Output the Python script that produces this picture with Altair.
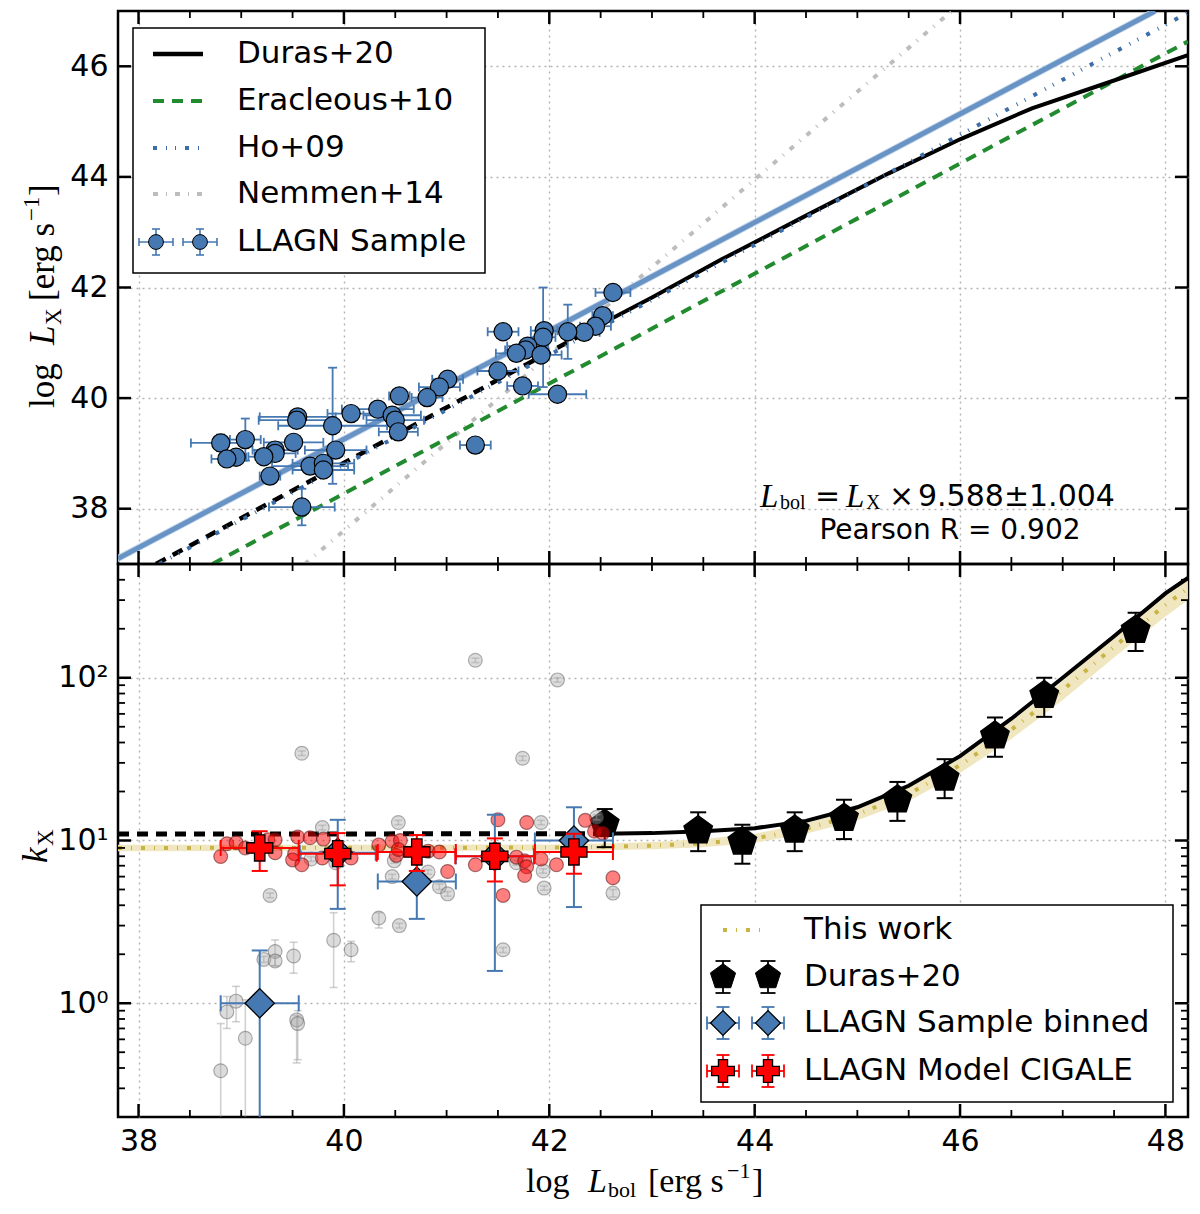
import altair as alt
import pandas as pd

# ---------------------------------------------------------------- top panel data
SAMPLE_LBOL = [42.62, 42.52, 42.45, 42.34, 42.18, 41.95, 41.94, 41.55, 41.79, 41.77,
               41.68, 41.92, 41.50, 41.74, 42.08, 41.28, 41.01, 40.93, 40.81, 40.54,
               40.33, 40.47, 40.50, 40.53, 40.07, 39.89, 39.92, 39.55, 39.54, 39.51,
               39.33, 39.33, 39.22, 39.04, 38.80, 38.95, 38.86, 39.28, 39.67, 39.80,
               39.80, 39.59]
SAMPLE_LX = [41.91, 41.49, 41.30, 41.19, 41.20, 41.22, 41.10, 41.20, 40.94, 40.87,
             40.81, 40.78, 40.49, 40.22, 40.07, 39.15, 40.34, 40.20, 40.01, 40.04,
             39.80, 39.69, 39.60, 39.39, 39.72, 39.50, 39.06, 39.66, 39.60, 39.20,
             39.06, 39.00, 38.94, 39.25, 39.19, 38.93, 38.90, 38.59, 38.77, 38.82,
             38.70, 38.03]
SAMPLE_LBOL_ERR = [0.17, 0.10, 0.15, 0.15, 0.15, 0.13, 0.12, 0.15, 0.20, 0.20,
                   0.20, 0.20, 0.20, 0.15, 0.28, 0.15, 0.15, 0.20, 0.15, 0.10,
                   0.35, 0.28, 0.28, 0.19, 0.23, 0.53, 0.30, 0.37, 0.37, 0.29,
                   0.22, 0.20, 0.15, 0.15, 0.29, 0.10, 0.15, 0.10, 0.37, 0.30,
                   0.30, 0.32]
SAMPLE_LX_ERR = [0.05, 0.05, 0.05, 0.05, 0.49, 0.05, 0.90, 0.05, 0.05, 0.05,
                 0.05, 0.05, 0.05, 0.05, 0.05, 0.05, 0.05, 0.05, 0.05, 0.05,
                 0.05, 0.05, 0.05, 0.05, 0.05, 1.05, 0.05, 0.05, 0.05, 0.05,
                 0.05, 0.05, 0.05, 0.38, 0.15, 0.05, 0.05, 0.05, 0.05, 0.05,
                 0.05, 0.33]

NEMMEN_LBOL, NEMMEN_LX = [39.62, 45.92], [37.0, 47.0]
HO_LBOL, HO_LX = [38.2, 48.22], [37.0, 46.97]
ERAC_LBOL, ERAC_LX = [38.72, 48.22], [37.0, 46.45]
DURAS_TOP_DASH_LBOL, DURAS_TOP_DASH_LX = [38.17, 42.6], [37.0, 41.43]
DURAS_TOP_LBOL = [42.6, 43.0, 43.67, 44.5, 45.3, 46.0, 46.7, 47.4, 48.22]
DURAS_TOP_LX = [41.43, 41.82, 42.5, 43.3, 44.06, 44.68, 45.24, 45.68, 46.2]
FIT_LBOL, FIT_LX = [37.8, 47.9], [37.1, 47.0]
FIT_LX_LO, FIT_LX_HI = [37.03, 46.93], [37.17, 47.07]

# ---------------------------------------------------------------- bottom panel data
GREY_LBOL = [41.28, 42.08, 39.59, 41.74, 39.79, 40.53, 41.92, 42.46, 39.68, 39.92,
             40.49, 40.82, 40.47, 40.93, 41.01, 41.68, 41.94, 41.95, 42.62, 39.28,
             41.55, 40.34, 40.54, 39.90, 40.07, 39.33, 39.22, 39.33, 39.51, 38.95,
             38.86, 39.54, 39.55, 39.04, 38.80]
GREY_K = [128, 97, 34.4, 32, 12.0, 12.9, 12.9, 13.9, 7.7, 7.3,
          7.5, 6.4, 6.0, 5.2, 4.7, 7.3, 6.5, 5.1, 4.75, 4.6,
          2.13, 3.34, 3.0, 2.44, 2.13, 2.08, 1.86, 1.82, 1.95, 1.03,
          0.885, 0.79, 0.75, 0.61, 0.385]
GREY_K_LO = [124, 94, 33.3, 31, 11.6, 12.5, 12.5, 13.4, 7.45, 7.05,
             7.25, 6.2, 5.8, 5.0, 4.55, 7.05, 6.3, 4.95, 4.5, 4.45,
             2.05, 2.9, 2.9, 1.25, 1.8, 1.7, 1.78, 1.7, 1.53, 0.77,
             0.7, 0.43, 0.45, 0.12, 0.1]
GREY_K_HI = [132, 100, 35.5, 33, 12.4, 13.3, 13.3, 14.4, 7.95, 7.55,
             7.75, 6.6, 6.2, 5.4, 4.85, 7.55, 6.7, 5.25, 5.0, 4.75,
             2.2, 3.6, 3.1, 3.6, 2.4, 2.45, 1.94, 1.94, 2.37, 1.27,
             1.1, 0.84, 0.9, 1.05, 0.75]

RED_LBOL = [38.80, 38.86, 38.95, 39.04, 39.26, 39.33, 39.33, 39.55, 39.67, 39.80,
            39.52, 39.50, 39.59, 39.79, 40.07, 40.34, 40.47, 40.55, 40.51, 40.53,
            40.82, 40.93, 41.01, 41.28, 41.50, 41.55, 41.78, 41.68, 41.76, 41.78,
            41.76, 41.92, 42.07, 42.35, 42.44, 42.52, 42.62]
RED_K = [7.97, 9.55, 9.7, 9.0, 10.1, 10.1, 8.4, 10.5, 10.4, 10.2,
         8.3, 7.6, 7.1, 7.8, 7.8, 9.4, 9.9, 10.0, 8.1, 8.8,
         8.6, 8.5, 6.45, 7.1, 13.4, 4.6, 12.9, 7.9, 7.5, 6.9,
         6.1, 7.7, 7.1, 13.3, 11.4, 11.1, 5.9]

BIN_LBOL = [39.18, 39.94, 40.71, 41.47, 42.24]
BIN_K = [1.0, 8.4, 5.6, 8.0, 10.0]
BIN_LBOL_ERR = [0.38, 0.37, 0.38, 0.38, 0.38]
BIN_K_LO = [0.1, 3.8, 3.3, 1.58, 3.9]
BIN_K_HI = [2.11, 13.4, 8.3, 14.4, 16.0]

CIG_LBOL = [39.18, 39.94, 40.71, 41.47, 42.24]
CIG_K = [9.0, 8.3, 8.5, 8.0, 8.5]
CIG_LBOL_ERR = [0.38, 0.38, 0.38, 0.385, 0.38]
CIG_K_LO = [6.5, 5.3, 6.5, 5.6, 6.25]
CIG_K_HI = [11.4, 11.1, 10.8, 10.3, 11.0]

DURAS_PTS_LBOL = [42.54, 43.45, 43.88, 44.39, 44.87, 45.39, 45.85, 46.34, 46.82, 47.71]
DURAS_PTS_K = [12.6, 11.5, 9.8, 11.6, 13.7, 17.8, 24.2, 44, 78, 196]
DURAS_PTS_K_LO = [9.1, 8.6, 7.2, 8.6, 10.2, 13.2, 18.2, 32.7, 57.5, 146]
DURAS_PTS_K_HI = [15.6, 14.9, 12.5, 14.9, 17.8, 22.9, 31.6, 57, 100, 251]

DURAS_DASH_LBOL, DURAS_DASH_K = [37.8, 42.5], [10.96, 11.0]
DURAS_LBOL = [42.5, 43.0, 43.5, 44.0, 44.5, 45.0, 45.5, 46.0, 46.5, 47.0, 47.5, 48.0, 48.22]
DURAS_K = [11.0, 11.1, 11.4, 11.9, 13.2, 16.0, 21.7, 33, 56, 100, 180, 330, 410]

WORK_LBOL = [37.8, 42.0, 42.5, 43.0, 43.5, 44.0, 44.5, 45.0, 45.5, 46.0, 46.5, 47.0, 47.5, 48.0, 48.22]
WORK_K = [9.0, 9.05, 9.15, 9.3, 9.6, 10.3, 11.8, 14.5, 19.3, 29, 48, 84, 155, 280, 355]
WORK_K_LO = [8.6, 8.65, 8.7, 8.85, 9.1, 9.7, 11.0, 13.3, 17.5, 26, 42, 73, 133, 238, 300]
WORK_K_HI = [9.4, 9.45, 9.6, 9.8, 10.2, 11.0, 12.7, 15.8, 21.2, 32, 54, 96, 178, 325, 410]

# ---------------------------------------------------------------- ticks and labels
X_MAJOR = [38, 40, 42, 44, 46, 48]
X_MINOR = [38.5, 39, 39.5, 40.5, 41, 41.5, 42.5, 43, 43.5, 44.5, 45, 45.5, 46.5, 47, 47.5]
YT_MAJOR = [38, 40, 42, 44, 46]
YB_MAJOR = [1, 10, 100]
YB_LABELS = ["10⁰", "10¹", "10²"]
YB_MINOR = [0.3, 0.4, 0.5, 0.6, 0.7, 0.8, 0.9, 2, 3, 4, 5, 6, 7, 8, 9,
            20, 30, 40, 50, 60, 70, 80, 90, 200, 300, 400]
TOP_LEGEND = ["Duras+20", "Eracleous+10", "Ho+09", "Nemmen+14", "LLAGN Sample"]
BOT_LEGEND = ["This work", "Duras+20", "LLAGN Sample binned", "LLAGN Model CIGALE"]

W, H = 1070, 553
SANS = "DejaVu Sans"
SERIF = "Liberation Serif"
ONE = pd.DataFrame({"o": [0]})

BLUE = "#4679b2"
HO_BLUE = "#3d6ea8"
GREEN = "#228b2f"
GREY = "#bdbdbd"
GOLD = "#c8b445"
DASH_HO = [4, 9, 1, 8, 1, 9]
DASH_NEM = [5, 8, 1, 8]
DASH_WORK = [4, 9, 1, 9]
DASH_GREEN = [11, 8]
DASH_BLACK = [11, 8]

XS = alt.Scale(domain=[37.8, 48.22], nice=False, zero=False)
YS_TOP = alt.Scale(domain=[37, 47], nice=False, zero=False)
YS_BOT = alt.Scale(type="log", domain=[0.2, 500], nice=False)

label_expr = "".join(f"datum.value == {v} ? '{t}' : " for v, t in zip(YB_MAJOR, YB_LABELS)) + "''"

AX_X_TOP = alt.Axis(values=X_MAJOR, grid=True, labels=False, ticks=False, domain=False, title=None)
AX_X_BOT = alt.Axis(values=X_MAJOR, grid=True, ticks=False, tickSize=0, domain=False, title=None,
                    labelPadding=9, format="d")
AX_Y_TOP = alt.Axis(values=YT_MAJOR, grid=True, ticks=False, tickSize=0, domain=False, title=None,
                    labelPadding=10, format="d")
AX_Y_BOT = alt.Axis(values=YB_MAJOR, grid=True, ticks=False, tickSize=0, domain=False, title=None,
                    labelPadding=10, labelExpr=label_expr)


def encoders(x_axis, y_scale, y_axis):
    def ex(f):
        return alt.X(f"{f}:Q", scale=XS, axis=x_axis)

    def ey(f):
        return alt.Y(f"{f}:Q", scale=y_scale, axis=y_axis)
    return ex, ey


def text(s, x, y, size=30, font=SANS, style="normal", angle=0, align="left", baseline="middle"):
    return alt.Chart(ONE).mark_text(
        text=s, fontSize=size, font=font, fontStyle=style, angle=angle,
        align=align, baseline=baseline, color="black",
    ).encode(x=alt.value(x), y=alt.value(y))


def seg(x1, y1, x2, y2, color, width, dash=None):
    kw = dict(color=color, strokeWidth=width)
    if dash:
        kw["strokeDash"] = dash
    return alt.Chart(ONE).mark_rule(**kw).encode(
        x=alt.value(x1), y=alt.value(y1), x2=alt.value(x2), y2=alt.value(y2))


def sym(x, y, shape, size, fill, stroke="black", sw=1.0):
    return alt.Chart(ONE).mark_point(
        shape=shape, filled=True, size=size, fill=fill, stroke=stroke, strokeWidth=sw, opacity=1,
    ).encode(x=alt.value(x), y=alt.value(y))


def legend_err(x, y, dx, dy, color, width, cap):
    out = []
    if dx:
        out += [seg(x - dx, y, x + dx, y, color, width),
                seg(x - dx, y - cap / 2, x - dx, y + cap / 2, color, width),
                seg(x + dx, y - cap / 2, x + dx, y + cap / 2, color, width)]
    if dy:
        out += [seg(x, y - dy, x, y + dy, color, width),
                seg(x - cap / 2, y - dy, x + cap / 2, y - dy, color, width),
                seg(x - cap / 2, y + dy, x + cap / 2, y + dy, color, width)]
    return out


def errorbars(df, ex, ey, color, width, cap, x, y, xlo=None, xhi=None, ylo=None, yhi=None, opacity=1.0):
    base = alt.Chart(df)
    style = dict(color=color, opacity=opacity, clip=True)
    out = []
    if xlo:
        out.append(base.mark_rule(strokeWidth=width, **style).encode(x=ex(xlo), x2=alt.X2(xhi), y=ey(y)))
        for f in (xlo, xhi):
            out.append(base.mark_tick(orient="vertical", size=cap, thickness=width, **style)
                       .encode(x=ex(f), y=ey(y)))
    if ylo:
        out.append(base.mark_rule(strokeWidth=width, **style).encode(x=ex(x), y=ey(ylo), y2=alt.Y2(yhi)))
        for f in (ylo, yhi):
            out.append(base.mark_tick(orient="horizontal", size=cap, thickness=width, **style)
                       .encode(x=ex(x), y=ey(f)))
    return out


def ticks(ex, ey, y_major, y_minor):
    out = []
    for vals, ln, sw in ((X_MAJOR, 13, 2.5), (X_MINOR, 7, 1.8)):
        d = pd.DataFrame({"v": vals})
        out.append(alt.Chart(d).mark_rule(color="black", strokeWidth=sw)
                   .encode(x=ex("v"), y=alt.value(0), y2=alt.value(ln)))
        out.append(alt.Chart(d).mark_rule(color="black", strokeWidth=sw)
                   .encode(x=ex("v"), y=alt.value(H), y2=alt.value(H - ln)))
    for vals, ln, sw in ((y_major, 13, 2.5), (y_minor, 7, 1.8)):
        if not vals:
            continue
        d = pd.DataFrame({"v": vals})
        out.append(alt.Chart(d).mark_rule(color="black", strokeWidth=sw)
                   .encode(y=ey("v"), x=alt.value(0), x2=alt.value(ln)))
        out.append(alt.Chart(d).mark_rule(color="black", strokeWidth=sw)
                   .encode(y=ey("v"), x=alt.value(W), x2=alt.value(W - ln)))
    return out


def line(lx, ly, ex, ey, color, width, dash=None, opacity=1.0):
    d = pd.DataFrame({"L": lx, "y": ly})
    kw = dict(color=color, strokeWidth=width, clip=True, opacity=opacity)
    if dash:
        kw["strokeDash"] = dash
    return alt.Chart(d).mark_line(**kw).encode(x=ex("L"), y=ey("y"))


# ================================================================ top panel
ex, ey = encoders(AX_X_TOP, YS_TOP, AX_Y_TOP)

sample = pd.DataFrame({"L": SAMPLE_LBOL, "y": SAMPLE_LX})
sample["L_lo"] = sample["L"] - pd.Series(SAMPLE_LBOL_ERR)
sample["L_hi"] = sample["L"] + pd.Series(SAMPLE_LBOL_ERR)
sample["y_lo"] = sample["y"] - pd.Series(SAMPLE_LX_ERR)
sample["y_hi"] = sample["y"] + pd.Series(SAMPLE_LX_ERR)

fit_band = pd.DataFrame({"L": FIT_LBOL, "lo": FIT_LX_LO, "hi": FIT_LX_HI})

top_layers = [
    line(NEMMEN_LBOL, NEMMEN_LX, ex, ey, GREY, 4, DASH_NEM),
    line(ERAC_LBOL, ERAC_LX, ex, ey, GREEN, 4, DASH_GREEN),
    line(DURAS_TOP_DASH_LBOL, DURAS_TOP_DASH_LX, ex, ey, "black", 4.5, DASH_BLACK),
    line(DURAS_TOP_LBOL, DURAS_TOP_LX, ex, ey, "black", 4),
    line(HO_LBOL, HO_LX, ex, ey, HO_BLUE, 4, DASH_HO),
    alt.Chart(fit_band).mark_area(color="#c5d6ea", opacity=0.9, clip=True)
    .encode(x=ex("L"), y=ey("lo"), y2=alt.Y2("hi")),
    line(FIT_LBOL, FIT_LX, ex, ey, "#5d8bc1", 5, opacity=0.9),
]
top_layers += errorbars(sample, ex, ey, BLUE, 1.8, 9, "L", "y", "L_lo", "L_hi", "y_lo", "y_hi")
top_layers.append(
    alt.Chart(sample).mark_point(shape="circle", filled=True, size=330, fill=BLUE, stroke="black",
                                 strokeWidth=1.2, opacity=1).encode(x=ex("L"), y=ey("y"))
)

# legend (upper left)
top_layers.append(alt.Chart(ONE).mark_rect(fill="white", stroke="black", strokeWidth=1.5)
                  .encode(x=alt.value(15), x2=alt.value(367), y=alt.value(17), y2=alt.value(262)))
rows = [43, 90, 137, 183, 231]
top_layers += [
    seg(35, rows[0], 85, rows[0], "black", 4.5),
    seg(35, rows[1], 85, rows[1], GREEN, 4, DASH_GREEN),
    seg(35, rows[2], 85, rows[2], HO_BLUE, 4, DASH_HO),
    seg(35, rows[3], 85, rows[3], GREY, 4, DASH_NEM),
]
for cx in (38, 82):
    top_layers += legend_err(cx, rows[4], 17, 13, BLUE, 1.6, 8)
    top_layers.append(sym(cx, rows[4], "circle", 220, BLUE))
for lbl, ry in zip(TOP_LEGEND, rows):
    top_layers.append(text(lbl, 119, ry, size=31))

# relation annotation
top_layers += [
    text("L", 642, 486, size=33, font=SERIF, style="italic"),
    text("bol", 662, 492, size=20, font=SERIF),
    text("=", 697, 486, size=30),
    text("L", 728, 486, size=33, font=SERIF, style="italic"),
    text("X", 748, 492, size=20, font=SERIF),
    text("×", 771, 486, size=30),
    text("9.588±1.004", 800, 486, size=30),
    text("Pearson R = 0.902", 832, 520, size=28, align="center"),
]

# y title (rotated)
top_layers += [
    text("log", -75, 397, size=35, font=SERIF, angle=270),
    text("L", -75, 334, size=35, font=SERIF, style="italic", angle=270),
    text("X", -64, 314, size=23, font=SERIF, angle=270),
    text("[erg s", -75, 290, size=35, font=SERIF, angle=270),
    text("−1", -86, 210, size=23, font=SERIF, angle=270),
    text("]", -75, 185, size=35, font=SERIF, angle=270),
]
top_layers += ticks(ex, ey, YT_MAJOR, [])

top = alt.layer(*top_layers).properties(width=W, height=H)

# ================================================================ bottom panel
ex, ey = encoders(AX_X_BOT, YS_BOT, AX_Y_BOT)

grey = pd.DataFrame({"L": GREY_LBOL, "k": GREY_K, "lo": GREY_K_LO, "hi": GREY_K_HI})
red = pd.DataFrame({"L": RED_LBOL, "k": RED_K})
binned = pd.DataFrame({"L": BIN_LBOL, "k": BIN_K, "lo": BIN_K_LO, "hi": BIN_K_HI})
binned["L_lo"] = binned["L"] - pd.Series(BIN_LBOL_ERR)
binned["L_hi"] = binned["L"] + pd.Series(BIN_LBOL_ERR)
cig = pd.DataFrame({"L": CIG_LBOL, "k": CIG_K, "lo": CIG_K_LO, "hi": CIG_K_HI})
cig["L_lo"] = cig["L"] - pd.Series(CIG_LBOL_ERR)
cig["L_hi"] = cig["L"] + pd.Series(CIG_LBOL_ERR)
duras_pts = pd.DataFrame({"L": DURAS_PTS_LBOL, "k": DURAS_PTS_K, "lo": DURAS_PTS_K_LO, "hi": DURAS_PTS_K_HI})
work_band = pd.DataFrame({"L": WORK_LBOL, "lo": WORK_K_LO, "hi": WORK_K_HI})

PENTAGON = "M0,-1L0.951,-0.309L0.588,0.809L-0.588,0.809L-0.951,-0.309Z"

bot_layers = [
    alt.Chart(work_band).mark_area(color="#efe6bd", opacity=0.95, clip=True)
    .encode(x=ex("L"), y=ey("lo"), y2=alt.Y2("hi")),
    line(WORK_LBOL, WORK_K, ex, ey, GOLD, 4, DASH_WORK),
    line(DURAS_DASH_LBOL, DURAS_DASH_K, ex, ey, "black", 5, DASH_BLACK),
    line(DURAS_LBOL, DURAS_K, ex, ey, "black", 4),
]
bot_layers += errorbars(duras_pts, ex, ey, "black", 2, 16, "L", "k", ylo="lo", yhi="hi")
bot_layers.append(
    alt.Chart(duras_pts).mark_point(shape=PENTAGON, filled=True, size=850, fill="black", stroke="black",
                                    opacity=1).encode(x=ex("L"), y=ey("k"))
)
bot_layers += errorbars(grey, ex, ey, "#9a9a9a", 1.6, 8, "L", "k", ylo="lo", yhi="hi", opacity=0.45)
bot_layers.append(
    alt.Chart(grey).mark_point(shape="circle", filled=True, size=190, fill="#a8a8a8", fillOpacity=0.4,
                               stroke="#555555", strokeOpacity=0.45, strokeWidth=1.2, opacity=1)
    .encode(x=ex("L"), y=ey("k"))
)
bot_layers.append(
    alt.Chart(red).mark_point(shape="circle", filled=True, size=190, fill="#ff0000", fillOpacity=0.5,
                              stroke="#551111", strokeOpacity=0.55, strokeWidth=1.2, opacity=1)
    .encode(x=ex("L"), y=ey("k"))
)
bot_layers += errorbars(binned, ex, ey, BLUE, 2, 16, "L", "k", "L_lo", "L_hi", "lo", "hi")
bot_layers.append(
    alt.Chart(binned).mark_point(shape="diamond", filled=True, size=860, fill=BLUE, stroke="black",
                                 strokeWidth=1.3, opacity=1).encode(x=ex("L"), y=ey("k"))
)
bot_layers += errorbars(cig, ex, ey, "#ff0000", 2, 16, "L", "k", "L_lo", "L_hi", "lo", "hi")
bot_layers.append(
    alt.Chart(cig).mark_point(shape="cross", filled=True, size=680, fill="#ff0000", stroke="black",
                              strokeWidth=1.3, opacity=1).encode(x=ex("L"), y=ey("k"))
)

# legend (lower right)
bot_layers.append(alt.Chart(ONE).mark_rect(fill="white", stroke="black", strokeWidth=1.5)
                  .encode(x=alt.value(583), x2=alt.value(1055), y=alt.value(341), y2=alt.value(538)))
brows = [366, 413, 459, 507]
bot_layers.append(seg(605, brows[0], 642, brows[0], GOLD, 4, DASH_WORK))
for cx in (605, 650):
    bot_layers += legend_err(cx, brows[1], 0, 16, "black", 1.8, 15)
    bot_layers.append(sym(cx, brows[1], PENTAGON, 700, "black"))
    bot_layers += legend_err(cx, brows[2], 16, 16, BLUE, 1.8, 13)
    bot_layers.append(sym(cx, brows[2], "diamond", 620, BLUE, sw=1.3))
    bot_layers += legend_err(cx, brows[3], 16, 16, "#ff0000", 1.8, 13)
    bot_layers.append(sym(cx, brows[3], "cross", 520, "#ff0000", sw=1.3))
for lbl, ry in zip(BOT_LEGEND, brows):
    bot_layers.append(text(lbl, 686, ry, size=31))

# axis titles
bot_layers += [
    text("k", -82, 299, size=35, font=SERIF, style="italic", angle=270),
    text("X", -72, 282, size=23, font=SERIF, angle=270),
    text("log", 408, 618, size=34, font=SERIF),
    text("L", 470, 618, size=34, font=SERIF, style="italic"),
    text("bol", 490, 626, size=22, font=SERIF),
    text("[erg s", 530, 618, size=34, font=SERIF),
    text("−1", 609, 607, size=22, font=SERIF),
    text("]", 634, 618, size=34, font=SERIF),
]
bot_layers += ticks(ex, ey, YB_MAJOR, YB_MINOR)

bottom = alt.layer(*bot_layers).properties(width=W, height=H)

chart = (
    alt.vconcat(top, bottom, spacing=0, bounds="flush")
    .properties(padding={"left": 9, "top": 0, "right": 0, "bottom": 0})
    .configure_view(stroke="black", strokeWidth=2.5)
    .configure_axis(labelFont=SANS, labelFontSize=30, labelColor="black",
                    gridColor="#b3b3b3", gridDash=[2, 4], gridWidth=1.4)
)

chart.save("out.html", embed_options={"renderer": "svg", "actions": False})
